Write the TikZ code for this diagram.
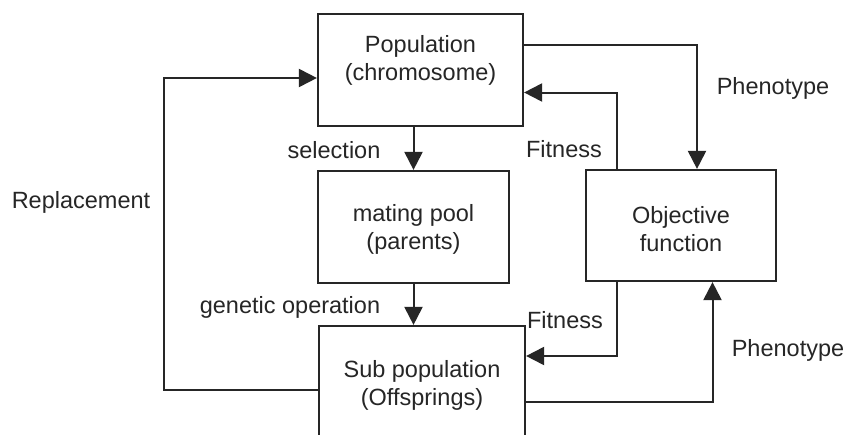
\documentclass[tikz,border=0pt]{standalone}
\usepackage{fontspec}
\setmainfont{Liberation Sans}
\usetikzlibrary{arrows.meta}
\begin{document}
\begin{tikzpicture}[x=1pt,y=-1pt,
  box/.style={draw=black!85, line width=2.2pt, minimum width=#1, inner sep=0pt},
  box/.default=200pt,
  txt/.style={inner sep=0pt, align=center, font=\fontsize{23.5}{28}\selectfont, text=black!85},
  arr/.style={line width=2pt, draw=black!85, -{Triangle[length=18pt,width=18pt]}},
  every node/.style={}]
\useasboundingbox (0,0) rectangle (846,434);
\clip (0,0) rectangle (846,434);
\fill[white] (0,0) rectangle (846,434);

% boxes
\node[box=205pt, minimum height=112pt] (pop) at (420.5,70) {};
\node[box=191pt, minimum height=112pt] (mate) at (413.5,227) {};
\node[box=190pt, minimum height=111pt] (obj) at (681,225.5) {};
\node[box=206pt, minimum height=112pt] (sub) at (422,382) {};

% box texts
\node[txt] (popt) at (420.5,60) {Population\\(chromosome)};
\node[txt] (matet) at (413.5,229) {mating pool\\(parents)};
\node[txt] (objt) at (681,229) {Objective\\function};
\node[txt] (subt) at (422,385) {Sub population\\(Offsprings)};

% connectors
\draw[arr] (mate.north |- pop.south) -- (mate.north);
\draw[arr] (mate.south) -- (mate.south |- sub.north);
\draw[arr] ([yshift=25pt]pop.east) -| ([xshift=16pt]obj.north);
\draw[arr] ([xshift=-64pt]obj.north) |- ([yshift=-22.5pt]pop.east);
\draw[arr] ([xshift=-64pt]obj.south) |- ([yshift=26pt]sub.east);
\draw[arr] ([yshift=-19.5pt]sub.east) -| ([xshift=31.5pt]obj.south);
\coordinate (rb) at (164,389.5);
\coordinate (rt) at (164,78);
\draw[arr] ([yshift=-7.5pt]sub.west) -- (rb) -- (rt) -- ([yshift=-8pt]pop.west);

% labels
\node[txt] (lsel) at (334,150) {selection};
\node[txt] (lfit1) at (564,149) {Fitness};
\node[txt] (lphe1) at (773,88) {Phenotype};
\node[txt] (lrep) at (81,202) {Replacement};
\node[txt] (lgen) at (290,307) {genetic operation};
\node[txt] (lfit2) at (565,320) {Fitness};
\node[txt] (lphe2) at (788,350) {Phenotype};
\end{tikzpicture}
\end{document}
